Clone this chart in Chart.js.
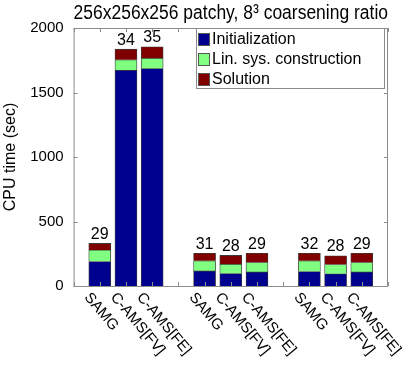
<!DOCTYPE html>
<html>
<head>
<meta charset="utf-8">
<script src="https://cdn.jsdelivr.net/npm/chart.js@4"></script>
<style>
    body { margin: 0; background: #fff; }
    #wrap { width: 419px; height: 374px; position: relative; }
</style>
</head>
<body>
<div id="wrap"><canvas id="cpu-chart"></canvas></div>
<script>
// methods in each group, three groups separated by an empty slot
const methods = ['SAMG', 'C-AMS[FV]', 'C-AMS[FE]'];
const groupCount = 3;

// CPU time per phase (sec), 9 bars in order
const initTime = [190, 1672, 1685, 117, 96, 109, 112, 94, 109];
const linSysTime = [89, 81, 81, 78, 73, 73, 83, 73, 73];
const solveTime = [51, 83, 88, 58, 68, 71, 58, 67, 71];

// iteration counts printed above the bars
const iterations = [29, 34, 35, 31, 28, 29, 32, 28, 29];

const yTicks = [0, 500, 1000, 1500, 2000];

document.addEventListener('DOMContentLoaded', function() {
    // build the slot layout: '' , g1 x3, '', g2 x3, '', g3 x3, ''
    const labels = [''];
    const slotIndex = [];
    for (let g = 0; g < groupCount; g++) {
        methods.forEach(m => {
            slotIndex.push(labels.length);
            labels.push(m);
        });
        labels.push('');
    }
    function toSlots(values) {
        const out = labels.map(() => null);
        values.forEach((v, i) => { out[slotIndex[i]] = v; });
        return out;
    }

    // MATLAB-like box with inward ticks, bar labels, rotated x labels and legend
    const decorations = {
        id: 'decorations',
        afterDatasetsDraw(chart) {
            const ctx = chart.ctx;
            const area = chart.chartArea;
            const xs = chart.scales.x;
            const ys = chart.scales.y;
            ctx.save();

            // box
            ctx.strokeStyle = '#8c8c8c';
            ctx.lineWidth = 1;
            ctx.strokeRect(area.left + 0.5, area.top + 0.5, area.right - area.left - 1, area.bottom - area.top);

            // inward ticks
            ctx.beginPath();
            labels.forEach((l, i) => {
                const x = Math.round(xs.getPixelForValue(i)) + 0.5;
                ctx.moveTo(x, area.bottom); ctx.lineTo(x, area.bottom - 4);
                ctx.moveTo(x, area.top); ctx.lineTo(x, area.top + 4);
            });
            yTicks.forEach(t => {
                const y = Math.round(ys.getPixelForValue(t)) + 0.5;
                ctx.moveTo(area.left, y); ctx.lineTo(area.left + 4, y);
                ctx.moveTo(area.right, y); ctx.lineTo(area.right - 4, y);
            });
            ctx.stroke();

            // iteration counts above bars
            ctx.fillStyle = '#000';
            ctx.font = '16px "Liberation Sans", Arial, sans-serif';
            ctx.textAlign = 'center';
            ctx.textBaseline = 'bottom';
            iterations.forEach((n, i) => {
                const total = initTime[i] + linSysTime[i] + solveTime[i];
                const x = xs.getPixelForValue(slotIndex[i]);
                const y = ys.getPixelForValue(total);
                ctx.fillText(String(n), x, y - 1);
            });

            // rotated category labels
            ctx.font = '15px "Liberation Sans", Arial, sans-serif';
            ctx.textAlign = 'left';
            ctx.textBaseline = 'top';
            slotIndex.forEach(s => {
                const x = xs.getPixelForValue(s);
                ctx.save();
                ctx.translate(x - 7, area.bottom + 4);
                ctx.rotate(50 * Math.PI / 180);
                ctx.fillText(labels[s], 0, 0);
                ctx.restore();
            });

            // legend box
            const lx = 196, ly = 28, lw = 188, lh = 60;
            ctx.fillStyle = '#fff';
            ctx.fillRect(lx, ly, lw, lh);
            ctx.strokeStyle = '#8c8c8c';
            ctx.strokeRect(lx + 0.5, ly + 0.5, lw, lh);
            ctx.font = '16px "Liberation Sans", Arial, sans-serif';
            ctx.textBaseline = 'middle';
            chart.data.datasets.forEach((ds, i) => {
                const cy = ly + 11 + i * 20;
                ctx.fillStyle = ds.backgroundColor;
                ctx.fillRect(lx + 2, cy - 6, 12, 13);
                ctx.strokeStyle = '#555';
                ctx.strokeRect(lx + 2.5, cy - 5.5, 11, 12);
                ctx.fillStyle = '#000';
                ctx.fillText(ds.label, lx + 16, cy + 1);
            });
            ctx.restore();
        }
    };

    const ctx = document.getElementById('cpu-chart').getContext('2d');
    new Chart(ctx, {
        type: 'bar',
        data: {
            labels: labels,
            datasets: [{
                label: 'Initialization',
                data: toSlots(initTime),
                backgroundColor: '#00008f',
                borderColor: '#3a3a3a',
                borderWidth: 0.8,
                barThickness: 22
            }, {
                label: 'Lin. sys. construction',
                data: toSlots(linSysTime),
                backgroundColor: '#80ff80',
                borderColor: '#3a3a3a',
                borderWidth: 0.8,
                barThickness: 22
            }, {
                label: 'Solution',
                data: toSlots(solveTime),
                backgroundColor: '#800000',
                borderColor: '#3a3a3a',
                borderWidth: 0.8,
                barThickness: 22
            }]
        },
        options: {
            responsive: true,
            maintainAspectRatio: false,
            animation: false,
            layout: { padding: { left: 0, right: 31, top: 0, bottom: 88 } },
            plugins: {
                legend: { display: false },
                tooltip: { enabled: false },
                title: {
                    display: true,
                    fullSize: false,
                    text: '256x256x256 patchy, 8³ coarsening ratio',
                    color: '#000',
                    font: { family: '"Liberation Sans", Arial, sans-serif', size: 20, weight: 'normal' },
                    padding: { top: 1, bottom: 3 }
                }
            },
            scales: {
                x: {
                    stacked: true,
                    offset: false,
                    grid: { display: false, drawTicks: false },
                    border: { display: false },
                    ticks: { display: false }
                },
                y: {
                    stacked: true,
                    min: 0,
                    max: 2000,
                    grid: { display: false, drawTicks: false },
                    border: { display: false },
                    ticks: {
                        stepSize: 500,
                        color: '#000',
                        padding: 10,
                        callback: v => String(v),
                        font: { family: '"Liberation Sans", Arial, sans-serif', size: 15 }
                    },
                    title: {
                        display: true,
                        text: 'CPU time (sec)',
                        color: '#000',
                        padding: { top: 1, bottom: 0 },
                        font: { family: '"Liberation Sans", Arial, sans-serif', size: 16 }
                    }
                }
            }
        },
        plugins: [decorations]
    });
});
</script>
</body>
</html>
